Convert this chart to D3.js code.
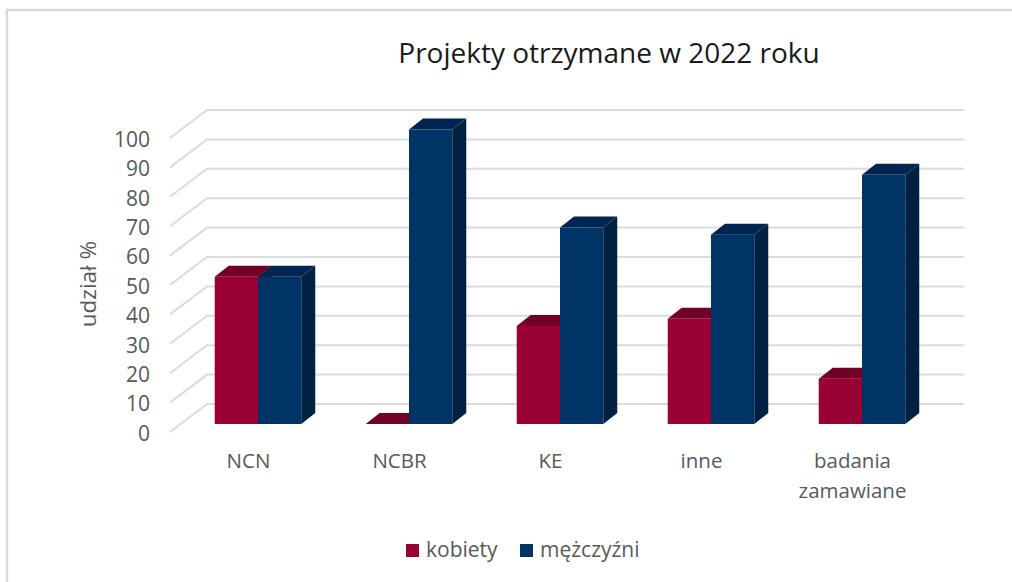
<!DOCTYPE html>
<html>
<head>
<meta charset="utf-8">
<script src="https://d3js.org/d3.v7.min.js"></script>
<style>
  html, body { margin: 0; padding: 0; background: #fff; overflow: hidden; }
  text { font-family: "Open Sans", sans-serif; }
</style>
</head>
<body>
<div id="chart-area"></div>
<script>
var categories = ["NCN", "NCBR", "KE", "inne", "badania zamawiane"];
var seriesNames = ["kobiety", "mężczyźni"];
var kobiety = [50, 0, 33.3, 35.7, 15.4];
var mezczyzni = [50, 100, 66.7, 64.3, 84.6];
var yTicks = [0, 10, 20, 30, 40, 50, 60, 70, 80, 90, 100];

var faceColors = { "kobiety": "#990033", "mężczyźni": "#003366" };
var topColors = { "kobiety": "#730026", "mężczyźni": "#002550" };
var sideColors = { "kobiety": "#5c001f", "mężczyźni": "#002142" };

var width = 1012;
var height = 582;
var depthX = 14;
var depthY = -11;

var svg = d3.select("#chart-area")
  .append("svg")
  .attr("width", width)
  .attr("height", height)
  .style("display", "block");

// outer frame, only top and left are visible in the picture
svg.append("path")
  .attr("d", "M7,582V10H1012")
  .attr("fill", "none")
  .attr("stroke", "#d9d9d9")
  .attr("stroke-width", 2.5);

svg.append("text")
  .attr("x", 609)
  .attr("y", 62.5)
  .attr("text-anchor", "middle")
  .attr("font-size", "28px")
  .attr("fill", "#1a1a1a")
  .text("Projekty otrzymane w 2022 roku");

// scale of the floor edge, used by the axis and the grid
var yAxisScale = d3.scaleLinear().domain([0, 100]).range([432, 138]);
// scale of the bar fronts
var y = d3.scaleLinear().domain([0, 100]).range([424, 129.5]);

var x = d3.scaleBand()
  .domain(categories)
  .range([182.5, 937.5])
  .paddingInner(0.427)
  .paddingOuter(0.2135);

var xSeries = d3.scaleBand()
  .domain(seriesNames)
  .range([0, x.bandwidth()]);

// grid: slanted side wall + back wall
var gridGroup = svg.append("g").attr("class", "grid");
gridGroup.selectAll("path")
  .data(yTicks)
  .enter().append("path")
  .attr("d", (d) => {
    var py = yAxisScale(d);
    return "M170," + py + "L207," + (py - 28) + "H964";
  })
  .attr("fill", "none")
  .attr("stroke", "#dcdcdc")
  .attr("stroke-width", 2);

var yAxisCall = d3.axisLeft(yAxisScale)
  .tickValues(yTicks)
  .tickSize(0)
  .tickPadding(0);
var yAxisGroup = svg.append("g")
  .attr("transform", "translate(150,1.5)")
  .call(yAxisCall);
yAxisGroup.select(".domain").remove();
yAxisGroup.selectAll("text")
  .attr("font-size", "21px")
  .attr("font-family", "\"Open Sans\", sans-serif")
  .attr("fill", "#595959");

svg.append("text")
  .attr("transform", "translate(96,284) rotate(-90)")
  .attr("text-anchor", "middle")
  .attr("font-size", "22.5px")
  .attr("fill", "#595959")
  .text("udział %");

var xAxisCall = d3.axisBottom(x).tickSize(0).tickPadding(0);
var xAxisGroup = svg.append("g")
  .attr("transform", "translate(-9.5,453)")
  .call(xAxisCall);
xAxisGroup.select(".domain").remove();
xAxisGroup.selectAll("text")
  .attr("font-size", "20.5px")
  .attr("font-family", "\"Open Sans\", sans-serif")
  .attr("fill", "#595959")
  .each(function (d) {
    var words = d.split(" ");
    var label = d3.select(this).text(null);
    words.forEach((w, i) => {
      label.append("tspan")
        .attr("x", 0)
        .attr("dy", i === 0 ? "0.71em" : "30px")
        .text(w);
    });
  });

// one 3D box per value: top, side, then the front face
function drawSeries(name, values) {
  var rows = categories.map((c, i) => ({ category: c, value: values[i] }));
  var group = svg.append("g").attr("class", "series");
  var w = xSeries.bandwidth();

  group.selectAll(".top")
    .data(rows)
    .enter().append("path")
    .attr("class", "top")
    .attr("fill", topColors[name])
    .attr("d", (d) => {
      var x0 = x(d.category) + xSeries(name);
      var py = y(d.value);
      return "M" + x0 + "," + py + "l" + depthX + "," + depthY + "h" + w + "l" + (-depthX) + "," + (-depthY) + "Z";
    });

  group.selectAll(".side")
    .data(rows.filter((d) => d.value > 0))
    .enter().append("path")
    .attr("class", "side")
    .attr("fill", sideColors[name])
    .attr("d", (d) => {
      var x1 = x(d.category) + xSeries(name) + w;
      return "M" + x1 + "," + y(d.value) + "l" + depthX + "," + depthY + "V" + (y(0) + depthY) + "l" + (-depthX) + "," + (-depthY) + "Z";
    });

  group.selectAll(".front")
    .data(rows)
    .enter().append("rect")
    .attr("class", "front")
    .attr("fill", faceColors[name])
    .attr("x", (d) => x(d.category) + xSeries(name))
    .attr("y", (d) => y(d.value))
    .attr("width", w)
    .attr("height", (d) => y(0) - y(d.value));
}

drawSeries("kobiety", kobiety);
drawSeries("mężczyźni", mezczyzni);

// legend
var legendX = d3.scalePoint().domain(seriesNames).range([406, 520]);
var legend = svg.append("g").attr("class", "legend");
legend.selectAll("rect")
  .data(seriesNames)
  .enter().append("rect")
  .attr("x", (d) => legendX(d))
  .attr("y", 544)
  .attr("width", 13)
  .attr("height", 13)
  .attr("fill", (d) => faceColors[d]);
legend.selectAll("text")
  .data(seriesNames)
  .enter().append("text")
  .attr("x", (d) => legendX(d) + 20)
  .attr("y", 557)
  .attr("font-size", "21px")
  .attr("fill", "#595959")
  .text((d) => d);
</script>
</body>
</html>
